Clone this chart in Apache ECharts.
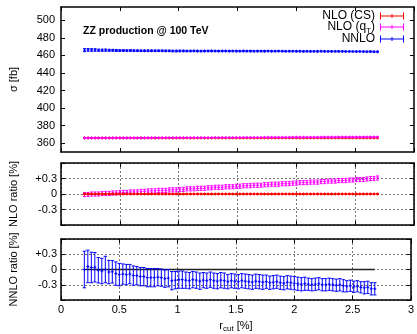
<!DOCTYPE html>
<html><head><meta charset="utf-8">
<script src="https://cdn.jsdelivr.net/npm/echarts@6/dist/echarts.min.js"></script>
<style>html,body{margin:0;padding:0;background:#fff}#c{width:417px;height:334px}</style>
</head><body><div id="c"></div>
<script>
// r_cut values [%]
const rcut = [0.20,0.23,0.26,0.29,0.32,0.35,0.38,0.41,0.44,0.47,
0.50,0.53,0.56,0.59,0.62,0.65,0.68,0.71,0.74,0.77,
0.80,0.83,0.86,0.89,0.92,0.95,0.98,1.01,1.04,1.07,
1.10,1.13,1.16,1.19,1.22,1.25,1.28,1.31,1.34,1.37,
1.40,1.43,1.46,1.49,1.52,1.55,1.58,1.61,1.64,1.67,
1.70,1.73,1.76,1.79,1.82,1.85,1.88,1.91,1.94,1.97,
2.00,2.03,2.06,2.09,2.12,2.15,2.18,2.21,2.24,2.27,
2.30,2.33,2.36,2.39,2.42,2.45,2.48,2.51,2.54,2.57,
2.60,2.63,2.66,2.69];

// Top panel: sigma [fb]
const sigmaNNLO = [465.9,466.2,466.1,466.1,465.8,465.8,465.9,465.7,465.7,465.5,
465.4,465.5,465.4,465.5,465.3,465.3,465.2,465.2,465.2,465.2,
465.2,465.2,465.2,465.1,465.1,464.9,464.9,465.0,465.0,464.9,
464.9,465.0,464.9,464.8,464.9,464.9,465.0,464.9,464.8,464.9,
464.9,464.8,464.9,464.8,464.8,464.9,464.8,464.8,464.7,464.8,
464.8,464.7,464.8,464.7,464.7,464.8,464.7,464.6,464.7,464.7,
464.6,464.6,464.5,464.6,464.5,464.5,464.5,464.6,464.5,464.5,
464.5,464.5,464.5,464.5,464.4,464.4,464.4,464.3,464.4,464.3,
464.2,464.3,464.1,464.1];
const sigmaNNLOErr = [1.7,1.5,1.4,1.4,1.2,1.2,1.2,1.1,1.0,1.1,
1.0,0.9,0.9,0.9,0.9,0.8,0.8,0.8,0.8,0.8,
0.8,0.8,0.8,0.8,0.8,0.8,0.8,0.8,0.8,0.7,
0.7,0.7,0.7,0.7,0.7,0.7,0.7,0.7,0.7,0.7,
0.7,0.7,0.7,0.7,0.7,0.7,0.7,0.7,0.7,0.7,
0.7,0.7,0.6,0.6,0.6,0.6,0.6,0.6,0.6,0.6,
0.6,0.6,0.6,0.6,0.6,0.6,0.6,0.6,0.6,0.6,
0.6,0.6,0.6,0.6,0.6,0.5,0.5,0.5,0.5,0.5,
0.6,0.6,0.6,0.6];
const sigmaNLOcs = [366.0,366.0,366.0,366.0,366.0,366.0,366.0,366.0,366.0,366.0,
366.0,366.0,366.0,366.0,366.0,366.0,366.0,366.0,366.0,366.0,
366.0,366.0,366.0,366.0,366.0,366.0,366.0,366.0,366.0,366.0,
366.0,366.0,366.0,366.0,366.0,366.0,366.0,366.0,366.0,366.0,
366.0,366.0,366.0,366.0,366.0,366.0,366.0,366.0,366.0,366.0,
366.0,366.0,366.0,366.0,366.0,366.0,366.0,366.0,366.0,366.0,
366.0,366.0,366.0,366.0,366.0,366.0,366.0,366.0,366.0,366.0,
366.0,366.0,366.0,366.0,366.0,366.0,366.0,366.0,366.0,366.0,
366.0,366.0,366.0,366.0];
const sigmaNLOcsErr = [0.1,0.1,0.1,0.1,0.1,0.1,0.1,0.1,0.1,0.1,
0.1,0.1,0.1,0.1,0.1,0.1,0.1,0.1,0.1,0.1,
0.1,0.1,0.1,0.1,0.1,0.1,0.1,0.1,0.1,0.1,
0.1,0.1,0.1,0.1,0.1,0.1,0.1,0.1,0.1,0.1,
0.1,0.1,0.1,0.1,0.1,0.1,0.1,0.1,0.1,0.1,
0.1,0.1,0.1,0.1,0.1,0.1,0.1,0.1,0.1,0.1,
0.1,0.1,0.1,0.1,0.1,0.1,0.1,0.1,0.1,0.1,
0.1,0.1,0.1,0.1,0.1,0.1,0.1,0.1,0.1,0.1,
0.1,0.1,0.1,0.1];
const sigmaNLOqt = [366.0,366.0,366.0,366.0,366.0,366.0,366.0,366.0,366.1,366.1,
366.1,366.1,366.1,366.1,366.1,366.1,366.2,366.2,366.2,366.2,
366.2,366.3,366.3,366.3,366.3,366.3,366.3,366.3,366.3,366.4,
366.4,366.4,366.4,366.4,366.4,366.4,366.4,366.5,366.5,366.5,
366.5,366.5,366.5,366.5,366.5,366.6,366.6,366.6,366.6,366.6,
366.6,366.7,366.7,366.7,366.7,366.7,366.7,366.7,366.7,366.8,
366.8,366.8,366.8,366.8,366.8,366.8,366.8,366.9,366.9,366.9,
366.9,366.9,367.0,367.0,367.0,367.0,367.0,367.0,367.0,367.0,
367.1,367.1,367.1,367.1];
const sigmaNLOqtErr = [0.15,0.15,0.15,0.15,0.15,0.15,0.15,0.15,0.15,0.15,
0.15,0.15,0.15,0.15,0.15,0.15,0.15,0.15,0.15,0.15,
0.15,0.15,0.15,0.15,0.15,0.15,0.15,0.15,0.15,0.15,
0.15,0.15,0.15,0.15,0.15,0.15,0.15,0.15,0.15,0.15,
0.15,0.15,0.15,0.15,0.15,0.15,0.15,0.15,0.15,0.15,
0.15,0.15,0.15,0.15,0.15,0.15,0.15,0.15,0.15,0.15,
0.15,0.15,0.15,0.15,0.15,0.15,0.15,0.15,0.15,0.15,
0.15,0.15,0.15,0.15,0.15,0.15,0.15,0.15,0.15,0.15,
0.15,0.15,0.15,0.15];

// Middle panel: NLO ratio [%]
const csRatio = [0,0,0,0,0,0,0,0,0,0, 0,0,0,0,0,0,0,0,0,0,
0,0,0,0,0,0,0,0,0,0, 0,0,0,0,0,0,0,0,0,0,
0,0,0,0,0,0,0,0,0,0, 0,0,0,0,0,0,0,0,0,0,
0,0,0,0,0,0,0,0,0,0, 0,0,0,0,0,0,0,0,0,0, 0,0,0,0];
const csRatioErr = [0.01,0.01,0.01,0.01,0.01,0.01,0.01,0.01,0.01,0.01,
0.01,0.01,0.01,0.01,0.01,0.01,0.01,0.01,0.01,0.01,
0.01,0.01,0.01,0.01,0.01,0.01,0.01,0.01,0.01,0.01,
0.01,0.01,0.01,0.01,0.01,0.01,0.01,0.01,0.01,0.01,
0.01,0.01,0.01,0.01,0.01,0.01,0.01,0.01,0.01,0.01,
0.01,0.01,0.01,0.01,0.01,0.01,0.01,0.01,0.01,0.01,
0.01,0.01,0.01,0.01,0.01,0.01,0.01,0.01,0.01,0.01,
0.01,0.01,0.01,0.01,0.01,0.01,0.01,0.01,0.01,0.01,
0.01,0.01,0.01,0.01];
const qtRatio = [-0.01,-0.01,0.00,0.00,0.00,0.01,0.01,0.01,0.02,0.02,
0.03,0.03,0.03,0.04,0.04,0.04,0.05,0.05,0.06,0.06,
0.06,0.07,0.07,0.07,0.08,0.08,0.08,0.09,0.09,0.10,
0.10,0.10,0.11,0.11,0.11,0.12,0.12,0.13,0.13,0.13,
0.14,0.14,0.14,0.15,0.15,0.16,0.16,0.16,0.17,0.17,
0.17,0.18,0.18,0.19,0.19,0.19,0.20,0.20,0.20,0.21,
0.21,0.22,0.22,0.22,0.23,0.23,0.23,0.24,0.24,0.25,
0.25,0.25,0.26,0.26,0.26,0.27,0.27,0.28,0.28,0.28,
0.29,0.30,0.30,0.31];
const qtRatioErr = [0.04,0.04,0.04,0.04,0.04,0.04,0.04,0.04,0.04,0.04,
0.04,0.04,0.04,0.04,0.04,0.04,0.04,0.04,0.04,0.04,
0.04,0.04,0.04,0.04,0.04,0.04,0.04,0.04,0.04,0.04,
0.04,0.04,0.04,0.04,0.04,0.04,0.04,0.04,0.04,0.04,
0.04,0.04,0.04,0.04,0.04,0.04,0.04,0.04,0.04,0.04,
0.04,0.04,0.04,0.04,0.04,0.04,0.04,0.04,0.04,0.04,
0.04,0.04,0.04,0.04,0.04,0.04,0.04,0.04,0.04,0.04,
0.04,0.04,0.04,0.04,0.04,0.04,0.04,0.04,0.04,0.04,
0.04,0.04,0.04,0.04];

// Bottom panel: NNLO ratio [%]
const nnloRatio = [0.00,0.06,0.04,0.045,-0.015,-0.03,0.00,-0.05,-0.045,-0.08,
-0.10,-0.09,-0.10,-0.09,-0.12,-0.12,-0.14,-0.14,-0.16,-0.16,
-0.16,-0.15,-0.16,-0.18,-0.17,-0.22,-0.21,-0.20,-0.20,-0.21,
-0.22,-0.20,-0.21,-0.23,-0.21,-0.22,-0.20,-0.22,-0.23,-0.21,
-0.22,-0.24,-0.22,-0.23,-0.24,-0.22,-0.23,-0.24,-0.25,-0.23,
-0.24,-0.25,-0.24,-0.26,-0.25,-0.24,-0.26,-0.27,-0.25,-0.26,
-0.27,-0.28,-0.29,-0.28,-0.29,-0.30,-0.29,-0.28,-0.30,-0.30,
-0.29,-0.30,-0.31,-0.30,-0.32,-0.33,-0.32,-0.34,-0.33,-0.35,
-0.36,-0.35,-0.38,-0.38];
const nnloRatioErr = [0.36,0.32,0.30,0.29,0.25,0.25,0.26,0.23,0.22,0.23,
0.22,0.20,0.20,0.19,0.19,0.18,0.18,0.18,0.18,0.18,
0.18,0.17,0.17,0.17,0.17,0.18,0.17,0.17,0.17,0.16,
0.16,0.16,0.16,0.16,0.15,0.15,0.15,0.15,0.15,0.15,
0.15,0.14,0.14,0.14,0.14,0.14,0.14,0.14,0.14,0.14,
0.14,0.14,0.13,0.13,0.13,0.13,0.13,0.13,0.13,0.13,
0.13,0.13,0.13,0.13,0.12,0.12,0.12,0.12,0.12,0.12,
0.12,0.12,0.12,0.12,0.12,0.11,0.11,0.11,0.11,0.11,
0.12,0.12,0.12,0.12];

const xTicks = [0, 0.5, 1, 1.5, 2, 2.5, 3];
const sigmaTicks = [360, 380, 400, 420, 440, 460, 480, 500];

const FONT = 'Liberation Sans, Arial, Helvetica, sans-serif';
const RED = '#ff0000', MAG = '#ff00ff', BLUE = '#0000ff';

function errRenderer(color, cap, mark) {
  return function (params, api) {
    const x = api.value(0), y = api.value(1), e = api.value(2);
    const c = api.coord([x, y]);
    const lo = api.coord([x, y - e]);
    const hi = api.coord([x, y + e]);
    const st = { stroke: color, lineWidth: 1, fill: null };
    return { type: 'group', children: [
      { type: 'line', shape: { x1: c[0], y1: hi[1], x2: c[0], y2: lo[1] }, style: st },
      { type: 'line', shape: { x1: c[0] - cap, y1: hi[1], x2: c[0] + cap, y2: hi[1] }, style: st },
      { type: 'line', shape: { x1: c[0] - cap, y1: lo[1], x2: c[0] + cap, y2: lo[1] }, style: st },
      { type: 'line', shape: { x1: c[0] - mark, y1: c[1], x2: c[0] + mark, y2: c[1] }, style: st },
      { type: 'line', shape: { x1: c[0], y1: c[1] - mark, x2: c[0], y2: c[1] + mark }, style: st }
    ]};
  };
}
function pts(vals, errs) { return rcut.map((x, i) => [x, vals[i], errs[i]]); }

const axisLineStyle = { show: true, onZero: false, lineStyle: { color: '#000', width: 1.5 } };
const gridLine = { show: true, lineStyle: { color: '#777', type: [2, 2], width: 1 } };
const tick = { show: true, inside: true, length: 4, lineStyle: { color: '#000', width: 1 } };

function xAx(grid, pos, labels, split) {
  return { type: 'value', gridIndex: grid, position: pos, min: 0, max: 3, interval: 0.5,
    axisLine: axisLineStyle, axisTick: tick,
    axisLabel: { show: labels, fontFamily: FONT, fontSize: 11, color: '#000', margin: 4,
      formatter: v => String(+v.toFixed(1)) },
    splitLine: split ? gridLine : { show: false } };
}
function ratioY(grid, pos, name, main) {
  return { type: 'value', gridIndex: grid, position: pos, min: -0.6, max: 0.6, interval: 0.3,
    name: main ? name : '', nameLocation: 'middle', nameGap: 42,
    nameTextStyle: { fontFamily: FONT, fontSize: 11, color: '#000' },
    axisLine: axisLineStyle, axisTick: tick,
    axisLabel: { show: main, fontFamily: FONT, fontSize: 11, color: '#000', margin: 4,
      formatter: function (v) {
        if (Math.abs(v) > 0.5) return '';
        if (v > 0.01) return '+' + v.toFixed(1);
        if (v < -0.01) return v.toFixed(1);
        return '0';
      } },
    splitLine: main ? gridLine : { show: false } };
}

const ICON = 'path://M0,3h24v1h-24z M0,0h1v7h-1z M23,0h1v7h-1z M11.5,1.5h1v4h-1z';
function leg(name, top, fmt) {
  return { data: [{ name: name, icon: ICON }], right: 13, top: top, orient: 'vertical',
    itemWidth: 24, itemHeight: 7, align: 'right', selectedMode: false, padding: 0,
    formatter: fmt || (n => n),
    textStyle: { fontFamily: FONT, fontSize: 12, color: '#000',
      rich: { s: { fontFamily: FONT, fontSize: 8, color: '#000', padding: [7, 0, 0, 0] } } } };
}

const option = {
  animation: false,
  backgroundColor: '#fff',
  title: { text: 'ZZ production @ 100 TeV', left: 83, top: 26, padding: 0,
    textStyle: { fontFamily: FONT, fontSize: 10.5, fontWeight: 'bold', color: '#000' } },
  legend: [
    leg('NLO (CS)', 10),
    leg('NLO (qT)', 21, () => 'NLO (q{s|T})'),
    leg('NNLO', 33)
  ],
  grid: [
    { left: 57, right: 3, top: 7, height: 145 },
    { left: 57, right: 3, top: 163, height: 62 },
    { left: 57, right: 3, top: 239, height: 62 }
  ],
  xAxis: [
    xAx(0, 'bottom', false, false),
    xAx(1, 'bottom', false, true),
    Object.assign(xAx(2, 'bottom', true, true), {
      name: 'r{s|cut} [%]', nameLocation: 'middle', nameGap: 18,
      nameTextStyle: { fontFamily: FONT, fontSize: 11, color: '#000',
        rich: { s: { fontFamily: FONT, fontSize: 8, color: '#000', padding: [7, 0, 0, 0] } } } }),
    xAx(0, 'top', false, false),
    xAx(1, 'top', false, false),
    xAx(2, 'top', false, false)
  ],
  yAxis: [
    { type: 'value', gridIndex: 0, position: 'left', min: 350, max: 515,
      name: 'σ [fb]', nameLocation: 'middle', nameGap: 42,
      nameTextStyle: { fontFamily: FONT, fontSize: 11, color: '#000' },
      axisLine: axisLineStyle,
      axisTick: Object.assign({ customValues: sigmaTicks }, tick),
      axisLabel: { customValues: sigmaTicks, fontFamily: FONT, fontSize: 11, color: '#000', margin: 6 },
      splitLine: { show: false } },
    ratioY(1, 'left', 'NLO ratio [%]', true),
    ratioY(2, 'left', 'NNLO ratio [%]', true),
    { type: 'value', gridIndex: 0, position: 'right', min: 350, max: 515,
      axisLine: axisLineStyle,
      axisTick: Object.assign({ customValues: sigmaTicks }, tick),
      axisLabel: { show: false }, splitLine: { show: false } },
    ratioY(1, 'right', '', false),
    ratioY(2, 'right', '', false)
  ],
  series: [
    { name: 'NLO (CS)', type: 'custom', xAxisIndex: 0, yAxisIndex: 0, itemStyle: { color: RED },
      renderItem: errRenderer(RED, 1.5, 1.5), data: pts(sigmaNLOcs, sigmaNLOcsErr), encode: { x: 0, y: 1 } },
    { name: 'NLO (qT)', type: 'custom', xAxisIndex: 0, yAxisIndex: 0, itemStyle: { color: MAG },
      renderItem: errRenderer(MAG, 1.5, 1.5), data: pts(sigmaNLOqt, sigmaNLOqtErr), encode: { x: 0, y: 1 } },
    { name: 'NNLO', type: 'custom', xAxisIndex: 0, yAxisIndex: 0, itemStyle: { color: BLUE },
      renderItem: errRenderer(BLUE, 1.5, 1.5), data: pts(sigmaNNLO, sigmaNNLOErr), encode: { x: 0, y: 1 } },
    { name: 'qT ratio', type: 'custom', xAxisIndex: 1, yAxisIndex: 1, itemStyle: { color: MAG },
      renderItem: errRenderer(MAG, 1.5, 1.5), data: pts(qtRatio, qtRatioErr), encode: { x: 0, y: 1 } },
    { name: 'CS ratio', type: 'custom', xAxisIndex: 1, yAxisIndex: 1, itemStyle: { color: RED },
      renderItem: errRenderer(RED, 1.5, 1.5), data: pts(csRatio, csRatioErr), encode: { x: 0, y: 1 } },
    { name: 'ref', type: 'line', xAxisIndex: 2, yAxisIndex: 2, symbol: 'none', z: 1,
      lineStyle: { color: '#222', width: 1.5 }, silent: true,
      data: [[rcut[0], 0], [rcut[rcut.length - 1], 0]] },
    { name: 'NNLO ratio', type: 'custom', xAxisIndex: 2, yAxisIndex: 2, itemStyle: { color: BLUE }, z: 3,
      renderItem: errRenderer(BLUE, 1.7, 1.5), data: pts(nnloRatio, nnloRatioErr), encode: { x: 0, y: 1 } }
  ]
};
const chart = echarts.init(document.getElementById('c'), null, { renderer: 'canvas' });
chart.setOption(option);
</script></body></html>
